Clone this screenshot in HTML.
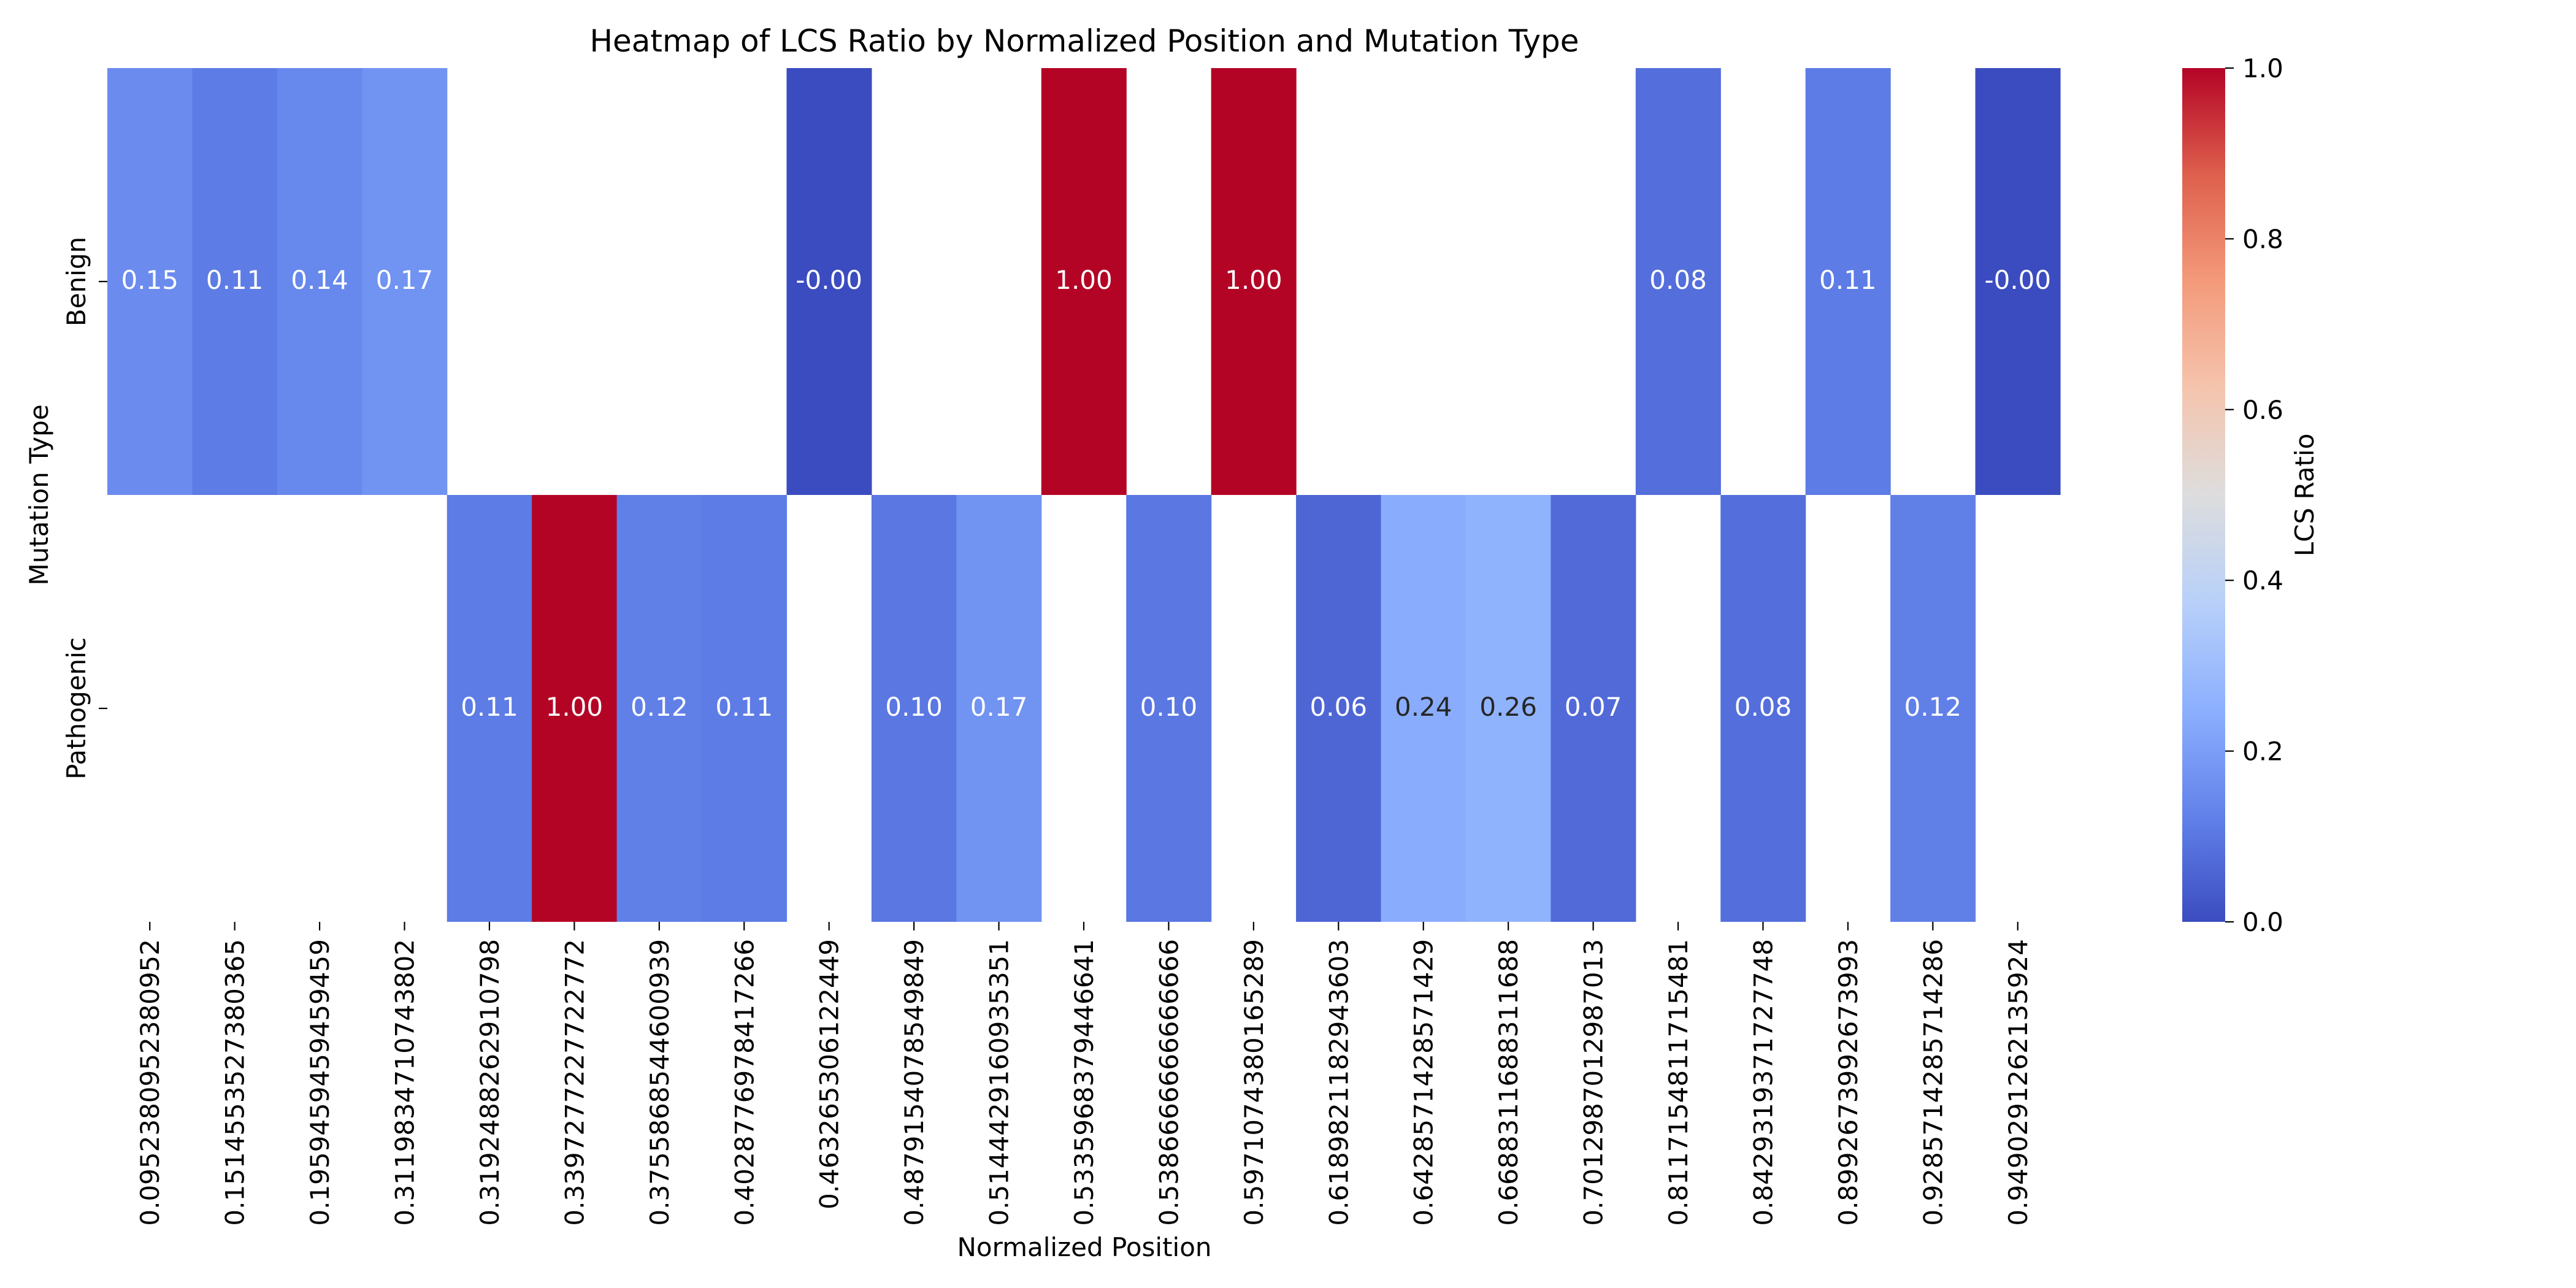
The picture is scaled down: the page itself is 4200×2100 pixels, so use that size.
<!DOCTYPE html>
<html><head><meta charset="utf-8"><style>
html,body{margin:0;padding:0;background:#fff;}
svg{display:block;font-family:"DejaVu Sans","Liberation Sans",sans-serif;}
</style></head><body>
<svg id="chart" width="4200" height="2100" viewBox="0 0 4200 2100" xmlns="http://www.w3.org/2000/svg">
<defs>
<linearGradient id="cbgrad" x1="0" y1="1" x2="0" y2="0">
<stop offset="0" stop-color="rgb(59,76,192)"/>
<stop offset="0.125" stop-color="rgb(98,130,234)"/>
<stop offset="0.25" stop-color="rgb(141,176,254)"/>
<stop offset="0.375" stop-color="rgb(184,208,249)"/>
<stop offset="0.5" stop-color="rgb(221,221,221)"/>
<stop offset="0.625" stop-color="rgb(245,196,173)"/>
<stop offset="0.75" stop-color="rgb(244,154,123)"/>
<stop offset="0.875" stop-color="rgb(222,96,77)"/>
<stop offset="1" stop-color="rgb(180,4,38)"/>
</linearGradient>
</defs>
<text x="1768" y="84" font-size="50" text-anchor="middle">Heatmap of LCS Ratio by Normalized Position and Mutation Type</text>
<g id="cells"></g>
<g id="xticks"></g>
<g id="yticks"></g>
<text x="1768" y="2048" font-size="42" text-anchor="middle">Normalized Position</text>
<text transform="translate(78,807) rotate(-90)" font-size="42" text-anchor="middle">Mutation Type</text>
<rect x="3558" y="111" width="70" height="1392" fill="url(#cbgrad)"/>
<g id="cbticks"></g>
<text transform="translate(3772,807) rotate(-90)" font-size="42" text-anchor="middle">LCS Ratio</text>
</svg>
<script>
const categories = ["0.0952380952380952","0.1514553527380365","0.1959459459459459","0.3119834710743802","0.3192488262910798","0.3397277227722772","0.3755868544600939","0.4028776978417266","0.463265306122449","0.4879154078549849","0.5144429160935351","0.5335968379446641","0.5386666666666666","0.5971074380165289","0.6189821182943603","0.6428571428571429","0.6688311688311688","0.7012987012987013","0.8117154811715481","0.8429319371727748","0.8992673992673993","0.9285714285714286","0.9490291262135924"];
const rows = ["Benign","Pathogenic"];
const benignValues = [0.15,0.11,0.14,0.17,null,null,null,null,-0.0001,null,null,1.00,null,1.00,null,null,null,null,0.08,null,0.11,null,-0.0001];
const pathogenicValues = [null,null,null,null,0.11,1.00,0.12,0.11,null,0.10,0.17,null,0.10,null,0.06,0.24,0.26,0.07,null,0.08,null,0.12,null];
const cbTicks = [0.0,0.2,0.4,0.6,0.8,1.0];

const NS="http://www.w3.org/2000/svg";
const L=175,R=3359,T=111,B=1503;
const cw=(R-L)/categories.length, rh=(B-T)/rows.length;
const xPos=i=>L+i*cw, yPos=j=>T+j*rh;
const cbY=v=>B-(v-0)/(1-0)*(B-T);
const stops=[[59,76,192],[98,130,234],[141,176,254],[184,208,249],[221,221,221],[245,196,173],[244,154,123],[222,96,77],[180,4,38]];
function cmap(v){v=Math.max(0,Math.min(1,v));const p=v*8;const i=Math.min(7,Math.floor(p));const f=p-i;
 return stops[i].map((c,k)=>Math.round(c+(stops[i+1][k]-c)*f));}
function lin(c){c/=255;return c<=0.04045?c/12.92:Math.pow((c+0.055)/1.055,2.4);}
function mk(tag,attrs,parent){const e=document.createElementNS(NS,tag);for(const k in attrs)e.setAttribute(k,attrs[k]);parent.appendChild(e);return e;}
const cells=document.getElementById('cells');
[benignValues,pathogenicValues].forEach((vals,j)=>{
 vals.forEach((v,i)=>{
  if(v===null)return;
  const c=cmap(v);
  const r=mk('rect',{x:xPos(i),y:yPos(j),width:cw+0.6,height:rh,fill:`rgb(${c[0]},${c[1]},${c[2]})`},cells);
  
  
  const lum=0.2126*lin(c[0])+0.7152*lin(c[1])+0.0722*lin(c[2]);
  const t=mk('text',{x:xPos(i)+cw/2,y:yPos(j)+rh/2+12,'font-size':42,'text-anchor':'middle',fill:lum>0.408?'#262626':'#fff'},cells);
  t.textContent=(Math.abs(v)<0.005&&v<0)?'-0.00':v.toFixed(2);
  
  
 });
});
const xt=document.getElementById('xticks');
categories.forEach((c,i)=>{
 const x=xPos(i)+cw/2;
 const l=mk('line',{x1:x,x2:x,y1:B,y2:B+14,stroke:'#000','stroke-width':2.2},xt);
 
 
 const t=mk('text',{transform:`translate(${x+15},${B+28}) rotate(-90)`,'font-size':42,'text-anchor':'end'},xt);
 t.textContent=c;
 
 
});
const yt=document.getElementById('yticks');
rows.forEach((r,j)=>{
 const y=yPos(j)+rh/2;
 const l=mk('line',{x1:L-14,x2:L,y1:y,y2:y,stroke:'#000','stroke-width':2.2},yt);
 
 
 const t=mk('text',{transform:`translate(${L-36},${y}) rotate(-90)`,'font-size':42,'text-anchor':'middle'},yt);
 t.textContent=r;
 
 
});
const cb=document.getElementById('cbticks');
cbTicks.forEach(v=>{
 const y=cbY(v);
 const l=mk('line',{x1:3628,x2:3642,y1:y,y2:y,stroke:'#000','stroke-width':2.2},cb);
 
 
 const t=mk('text',{x:3656,y:y+15,'font-size':42},cb);
 t.textContent=v.toFixed(1);
 
 
});
</script>
</body></html>
